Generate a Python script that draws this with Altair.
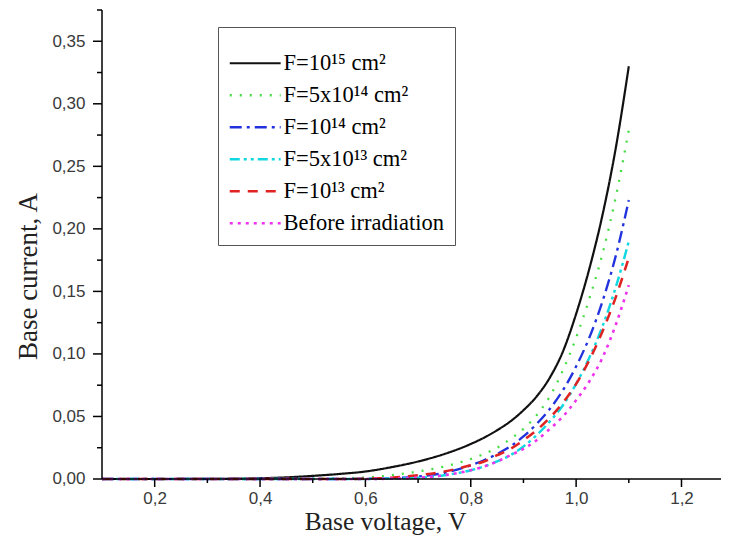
import altair as alt
import pandas as pd

voltage = [0.1, 0.2, 0.3, 0.4, 0.45, 0.5, 0.55, 0.6, 0.65, 0.7, 0.75, 0.8, 0.825, 0.85, 0.875,
           0.9, 0.925, 0.95, 0.975, 1.0, 1.025, 1.05, 1.075, 1.1]

i_f15 = [0, 0, 0.0001, 0.0006, 0.0013, 0.0025, 0.004, 0.006, 0.0095, 0.014, 0.020, 0.028,
         0.033, 0.039, 0.046, 0.055, 0.066, 0.081, 0.102, 0.132, 0.168, 0.211, 0.264, 0.330]
i_f5e14 = [0, 0, 0, 0, 0, 0.0002, 0.0005, 0.0012, 0.003, 0.006, 0.010, 0.016,
           0.020, 0.025, 0.032, 0.040, 0.051, 0.066, 0.087, 0.113, 0.144, 0.180, 0.225, 0.279]
i_f14 = [0, 0, 0, 0, 0, 0, 0, 0.0002, 0.0006, 0.002, 0.005, 0.011,
         0.015, 0.020, 0.026, 0.034, 0.044, 0.056, 0.071, 0.090, 0.113, 0.142, 0.178, 0.223]
i_f5e13 = [0, 0, 0, 0, 0, 0, 0, 0, 0.0003, 0.001, 0.003, 0.007,
           0.010, 0.014, 0.019, 0.026, 0.035, 0.046, 0.059, 0.076, 0.097, 0.122, 0.153, 0.190]
i_f13 = [0, 0, 0, 0, 0, 0, 0, 0.0002, 0.001, 0.003, 0.006, 0.011,
         0.014, 0.019, 0.024, 0.031, 0.039, 0.049, 0.061, 0.076, 0.095, 0.118, 0.145, 0.177]
i_before = [0, 0, 0, 0, 0, 0, 0, 0, 0.0003, 0.001, 0.003, 0.007,
            0.010, 0.014, 0.019, 0.024, 0.031, 0.040, 0.050, 0.063, 0.078, 0.097, 0.123, 0.155]

series_names = ["F=10¹⁵ cm²", "F=5x10¹⁴ cm²", "F=10¹⁴ cm²",
                "F=5x10¹³ cm²", "F=10¹³ cm²", "Before irradiation"]
series_values = [i_f15, i_f5e14, i_f14, i_f5e13, i_f13, i_before]
colors = ["#111111", "#44dd44", "#2233dd", "#11d8e0", "#e02222", "#ee33ee"]
dashes = [[1, 0], [2, 8], [12, 5, 3, 5], [10, 4, 3, 4, 3, 4], [10, 8], [3, 5]]
widths = [2.2, 2.6, 2.6, 2.6, 2.6, 3.0]

x_major = [0.2, 0.4, 0.6, 0.8, 1.0, 1.2]
x_minor = [0.3, 0.5, 0.7, 0.9, 1.1]
y_major = [0.0, 0.05, 0.10, 0.15, 0.20, 0.25, 0.30, 0.35]
y_minor = [0.025, 0.075, 0.125, 0.175, 0.225, 0.275, 0.325, 0.375]

X_MIN, X_MAX = 0.1, 1.275
Y_MIN, Y_MAX = 0.0, 0.375

# plot area includes the outward tick band (ticks drawn inside the data rectangle)
X_PX = 526.8   # pixels per volt
Y_PX = 1250.0  # pixels per ampere
Y_TICK, Y_TICK_MINOR = 9 / X_PX, 5 / X_PX
X_TICK, X_TICK_MINOR = 8 / Y_PX, 4 / Y_PX
PLOT_W = 628
PLOT_H = 477

rows = []
for name, vals in zip(series_names, series_values):
    for v, c in zip(voltage, vals):
        rows.append({"series": name, "V": v, "I": c})
df = pd.DataFrame(rows)

xscale = alt.Scale(domain=[X_MIN - Y_TICK, X_MAX], nice=False, zero=False)
yscale = alt.Scale(domain=[Y_MIN - X_TICK, Y_MAX], nice=False, zero=False)

label_font = "Liberation Sans"
title_font = "Liberation Serif"

legend = alt.Legend(
    title=" ", titleFontSize=8, titlePadding=7, orient="none", legendX=125, legendY=17,
    direction="vertical",
    symbolType="M-2.375,0H10.35", symbolSize=64, symbolStrokeWidth=2.5,
    labelFont=title_font, labelFontSize=22.5, labelColor="black", labelOffset=33,
    labelLimit=400, padding=10, rowPadding=9, strokeColor="#555555",
    fillColor="white",
)

lines = alt.Chart(df).mark_line(interpolate="monotone", clip=True).encode(
    x=alt.X("V:Q", scale=xscale, axis=alt.Axis(
        values=x_major, orient="bottom", grid=False, ticks=False, domain=False,
        labelExpr="replace(format(datum.value, '.1f'), '.', ',')",
        labelFont=label_font, labelFontSize=17, labelColor="#3a3a3a", labelPadding=3,
        title="Base voltage, V", titleFont=title_font, titleFontSize=25.5,
        titleFontWeight="normal", titleColor="#222222", titleX=292, titleY=34,
        titleBaseline="middle")),
    y=alt.Y("I:Q", scale=yscale, axis=alt.Axis(
        values=y_major, orient="left", grid=False, ticks=False, domain=False,
        labelExpr="replace(format(datum.value, '.2f'), '.', ',')",
        labelFont=label_font, labelFontSize=17, labelColor="#3a3a3a", labelPadding=8,
        title="Base current, A", titleFont=title_font, titleFontSize=27,
        titleFontWeight="normal", titleColor="#222222", titleX=-65, titleY=266,
        titleBaseline="middle")),
    color=alt.Color("series:N", scale=alt.Scale(domain=series_names, range=colors),
                    legend=legend),
    strokeDash=alt.StrokeDash("series:N", scale=alt.Scale(domain=series_names, range=dashes),
                              legend=legend),
    strokeWidth=alt.StrokeWidth("series:N", scale=alt.Scale(domain=series_names, range=widths),
                                legend=None),
)

rule_style = dict(color="black", strokeWidth=1.5)

x_axis_line = alt.Chart().mark_rule(**rule_style).encode(
    x=alt.datum(X_MIN), x2=alt.datum(X_MAX), y=alt.datum(Y_MIN))
y_axis_line = alt.Chart().mark_rule(**rule_style).encode(
    y=alt.datum(Y_MIN), y2=alt.datum(Y_MAX), x=alt.datum(X_MIN))


def xticks(vals, length):
    return alt.Chart(pd.DataFrame({"V": vals})).mark_rule(**rule_style).encode(
        x=alt.X("V:Q", scale=xscale),
        y=alt.datum(Y_MIN),
        y2=alt.datum(Y_MIN - length),
    )


def yticks(vals, length):
    return alt.Chart(pd.DataFrame({"I": vals})).mark_rule(**rule_style).encode(
        y=alt.Y("I:Q", scale=yscale),
        x=alt.datum(X_MIN),
        x2=alt.datum(X_MIN - length),
    )


chart = alt.layer(
    lines,
    xticks(x_major, X_TICK), xticks(x_minor, X_TICK_MINOR),
    yticks(y_major, Y_TICK), yticks(y_minor, Y_TICK_MINOR),
    x_axis_line, y_axis_line,
).properties(
    width=PLOT_W, height=PLOT_H,
    padding={"left": 85, "top": 2, "right": 0, "bottom": 52},
    autosize=alt.AutoSizeParams(type="none"),
).configure_view(stroke=None)

chart.save("out.html", embed_options={"renderer": "svg", "actions": False})
